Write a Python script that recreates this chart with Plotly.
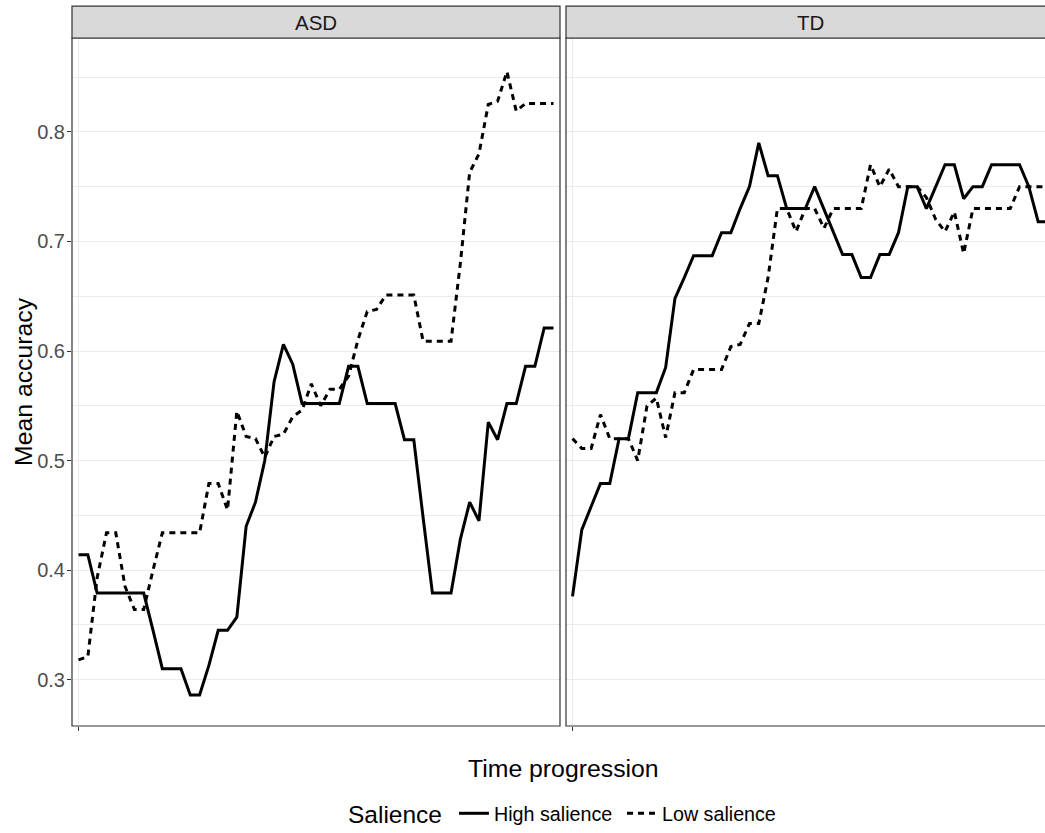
import plotly.graph_objects as go

# ---- data ----
time = list(range(1, 53))
panels = ["ASD", "TD"]
series_names = ["High salience", "Low salience"]

asd_high = [0.414, 0.414, 0.379, 0.379, 0.379, 0.379, 0.379, 0.379, 0.345, 0.310,
            0.310, 0.310, 0.286, 0.286, 0.313, 0.345, 0.345, 0.357, 0.440, 0.462,
            0.500, 0.572, 0.606, 0.588, 0.552, 0.552, 0.552, 0.552, 0.552, 0.586,
            0.586, 0.552, 0.552, 0.552, 0.552, 0.519, 0.519, 0.448, 0.379, 0.379,
            0.379, 0.428, 0.462, 0.445, 0.535, 0.519, 0.552, 0.552, 0.586, 0.586,
            0.621, 0.621]
asd_low = [0.318, 0.321, 0.393, 0.434, 0.434, 0.385, 0.364, 0.364, 0.400, 0.434,
           0.434, 0.434, 0.434, 0.434, 0.479, 0.479, 0.455, 0.545, 0.522, 0.520,
           0.503, 0.522, 0.524, 0.540, 0.546, 0.570, 0.550, 0.565, 0.565, 0.577,
           0.610, 0.636, 0.638, 0.651, 0.651, 0.651, 0.651, 0.609, 0.609, 0.609,
           0.609, 0.680, 0.763, 0.780, 0.825, 0.828, 0.855, 0.819, 0.826, 0.826,
           0.826, 0.826]
td_high = [0.376, 0.437, 0.458, 0.479, 0.479, 0.520, 0.520, 0.562, 0.562, 0.562,
           0.585, 0.648, 0.667, 0.687, 0.687, 0.687, 0.708, 0.708, 0.730, 0.750,
           0.790, 0.760, 0.760, 0.730, 0.730, 0.730, 0.750, 0.729, 0.708, 0.688,
           0.688, 0.667, 0.667, 0.688, 0.688, 0.708, 0.750, 0.750, 0.730, 0.750,
           0.770, 0.770, 0.739, 0.750, 0.750, 0.770, 0.770, 0.770, 0.770, 0.750,
           0.718, 0.718]
td_low = [0.520, 0.511, 0.511, 0.542, 0.520, 0.520, 0.520, 0.500, 0.550, 0.557,
          0.521, 0.562, 0.562, 0.583, 0.583, 0.583, 0.583, 0.604, 0.606, 0.625,
          0.625, 0.667, 0.730, 0.730, 0.709, 0.730, 0.730, 0.712, 0.730, 0.730,
          0.730, 0.730, 0.770, 0.750, 0.766, 0.750, 0.750, 0.750, 0.740, 0.720,
          0.709, 0.727, 0.689, 0.730, 0.730, 0.730, 0.730, 0.730, 0.750, 0.750,
          0.750, 0.750]

y_ticks = [0.3, 0.4, 0.5, 0.6, 0.7, 0.8]
y_tick_labels = ["0.3", "0.4", "0.5", "0.6", "0.7", "0.8"]
y_minor = [0.35, 0.45, 0.55, 0.65, 0.75, 0.85]

FONT = "Liberation Sans, Arial, sans-serif"
W, H = 1045, 833
ML, MT = 72, 38
PW = 973
PH = 692
MR = W - ML - PW
MB = H - MT - PH


def px(sx):
    return (sx - ML) / PW


def py(sy):
    return 1 - (sy - MT) / PH


fig = go.Figure()

dashes = {"High salience": "solid", "Low salience": "6px,5px"}
data = {("ASD", "High salience"): asd_high, ("ASD", "Low salience"): asd_low,
        ("TD", "High salience"): td_high, ("TD", "Low salience"): td_low}

for pi, panel in enumerate(panels):
    for name in series_names:
        fig.add_trace(go.Scatter(
            x=time, y=data[(panel, name)], mode="lines", name=name,
            legendgroup=name, showlegend=(pi == 0),
            line=dict(color="black", width=3, dash=dashes[name]),
            xaxis="x" if pi == 0 else "x2", yaxis="y" if pi == 0 else "y2",
        ))

asd_right = px(560)
td_left = px(566)
UNIT = 488 / 52.4  # px per time step

xcommon = dict(tickvals=[1], ticktext=[""], ticks="outside", ticklen=4,
               tickcolor="#333333", tickwidth=1, showgrid=True,
               gridcolor="#EBEBEB", gridwidth=1.2, zeroline=False, showline=False)
fig.update_layout(
    xaxis=dict(domain=[0, asd_right], range=[0.3, 52.7], anchor="y", **xcommon),
    xaxis2=dict(domain=[td_left, 1], range=[0.3, 0.3 + (1 - td_left) * PW / UNIT],
                anchor="y2", **xcommon),
    yaxis=dict(domain=[0, 1], range=[0.2577, 0.8857], tickvals=y_ticks,
               ticktext=y_tick_labels, ticks="outside", ticklen=4,
               tickcolor="#333333", tickwidth=1, showgrid=True,
               gridcolor="#EBEBEB", gridwidth=1.2, zeroline=False,
               ticklabelstandoff=-2,
               tickfont=dict(size=20, color="#4D4D4D", family=FONT),
               minor=dict(tickvals=y_minor, showgrid=True, gridcolor="#EBEBEB",
                          gridwidth=0.8, ticks=""),
               anchor="x"),
    yaxis2=dict(domain=[0, 1], range=[0.2577, 0.8857], tickvals=y_ticks,
                showticklabels=False, ticks="", showgrid=True,
                gridcolor="#EBEBEB", gridwidth=1.2, zeroline=False,
                minor=dict(tickvals=y_minor, showgrid=True, gridcolor="#EBEBEB",
                           gridwidth=0.8, ticks=""),
                anchor="x2", matches="y"),
)

strip_top = py(6)
strip_mid = py(22)
shapes = []
for xr, x1 in (("x domain", 1), ("x2 domain", 1.05)):
    shapes.append(dict(type="rect", xref=xr, yref="paper", x0=0, x1=x1, y0=0, y1=1,
                       line=dict(color="#333333", width=1.2), fillcolor="rgba(0,0,0,0)",
                       layer="above"))
    shapes.append(dict(type="rect", xref=xr, yref="paper", x0=0, x1=x1, y0=1, y1=strip_top,
                       line=dict(color="#333333", width=1.2), fillcolor="#D9D9D9",
                       layer="above"))

annotations = [
    dict(text="ASD", xref="x domain", yref="paper", x=0.5, y=strip_mid,
         showarrow=False, font=dict(size=20.5, color="#1A1A1A", family=FONT),
         xanchor="center", yanchor="middle"),
    dict(text="TD", xref="paper", yref="paper", x=px(810), y=strip_mid,
         showarrow=False, font=dict(size=20.5, color="#1A1A1A", family=FONT),
         xanchor="center", yanchor="middle"),
    dict(text="Time progression", xref="paper", yref="paper",
         x=px(563), y=py(773), showarrow=False,
         font=dict(size=24.8, color="black", family=FONT),
         xanchor="center", yanchor="middle"),
    dict(text="Mean accuracy", xref="paper", yref="paper",
         x=px(23), y=py(384), showarrow=False, textangle=-90,
         font=dict(size=24.8, color="black", family=FONT),
         xanchor="center", yanchor="middle"),
    dict(text="Salience", xref="paper", yref="paper",
         x=px(395), y=py(819), showarrow=False,
         font=dict(size=24.5, color="black", family=FONT),
         xanchor="center", yanchor="middle"),
]

fig.update_layout(
    width=W, height=H,
    margin=dict(l=ML, r=MR, t=MT, b=MB, pad=0),
    paper_bgcolor="white", plot_bgcolor="white",
    font=dict(family=FONT, color="black"),
    hovermode=False,
    shapes=shapes, annotations=annotations,
    legend=dict(orientation="h", x=px(454), xanchor="left",
                y=py(818), yanchor="middle",
                font=dict(size=19.7, color="black", family=FONT),
                bgcolor="rgba(0,0,0,0)", itemwidth=30, tracegroupgap=0,
                entrywidth=123, entrywidthmode="pixels"),
)

# remove the browser's default 8px page margin so the figure sits at (0, 0)
fig.write_html(
    "out.html",
    config={"displayModeBar": False},
    post_script="document.body.style.margin='0';"
                "document.documentElement.style.overflow='hidden';",
)
